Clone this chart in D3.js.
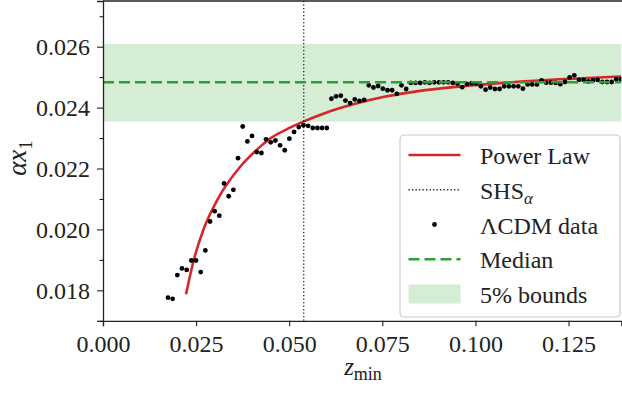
<!DOCTYPE html>
<html lang="en">
<head>
  <meta charset="UTF-8">
  <title>Power law fit</title>
<script src="https://d3js.org/d3.v7.min.js"></script>
<style>
  body { margin: 0; background: #fff; }
  text { font-family: "Liberation Serif", "DejaVu Serif", serif; fill: #222; }
</style>
</head>
<body>
<div id="chart"></div>

  <script>

// LCDM data points
const xData = [
  0.01745, 0.01870, 0.01996, 0.02121, 0.02247, 0.02372, 0.02497, 0.02623, 0.02748, 0.02874,
  0.02999, 0.03124, 0.03250, 0.03375, 0.03501, 0.03626, 0.03751, 0.03877, 0.04002, 0.04128,
  0.04253, 0.04378, 0.04504, 0.04629, 0.04755, 0.04880, 0.05005, 0.05131, 0.05256, 0.05382,
  0.05507, 0.05632, 0.05758, 0.05883, 0.06009, 0.06134, 0.06259, 0.06385, 0.06510, 0.06636,
  0.06761, 0.06886, 0.07012, 0.07137, 0.07263, 0.07388, 0.07513, 0.07639, 0.07764, 0.07890,
  0.08015, 0.08140, 0.08266, 0.08391, 0.08517, 0.08642, 0.08767, 0.08893, 0.09018, 0.09144,
  0.09269, 0.09394, 0.09520, 0.09645, 0.09771, 0.09896, 0.10021, 0.10147, 0.10272, 0.10398,
  0.10523, 0.10648, 0.10774, 0.10899, 0.11025, 0.11150, 0.11275, 0.11401, 0.11526, 0.11652,
  0.11777, 0.11902, 0.12028, 0.12153, 0.12279, 0.12404, 0.12529, 0.12655, 0.12780, 0.12906,
  0.13031, 0.13156, 0.13282, 0.13407, 0.13533, 0.13658, 0.13783, 0.13909
];
const yData = [
  0.01776, 0.01772, 0.01850, 0.01872, 0.01867, 0.01898, 0.01898, 0.01860, 0.01931, 0.02026,
  0.02060, 0.02045, 0.02151, 0.02109, 0.02130, 0.02234, 0.02338, 0.02289, 0.02307, 0.02254,
  0.02251, 0.02296, 0.02286, 0.02292, 0.02276, 0.02260, 0.02298, 0.02320, 0.02336, 0.02342,
  0.02340, 0.02333, 0.02333, 0.02333, 0.02333, 0.02429, 0.02437, 0.02439, 0.02423, 0.02415,
  0.02427, 0.02422, 0.02425, 0.02473, 0.02466, 0.02471, 0.02462, 0.02457, 0.02457, 0.02445,
  0.02473, 0.02461, 0.02481, 0.02481, 0.02481, 0.02483, 0.02481, 0.02483, 0.02483, 0.02483,
  0.02483, 0.02481, 0.02479, 0.02467, 0.02478, 0.02480, 0.02479, 0.02470, 0.02459, 0.02466,
  0.02461, 0.02461, 0.02470, 0.02470, 0.02470, 0.02470, 0.02462, 0.02476, 0.02476, 0.02476,
  0.02489, 0.02482, 0.02482, 0.02481, 0.02477, 0.02484, 0.02499, 0.02506, 0.02491, 0.02491,
  0.02486, 0.02489, 0.02491, 0.02484, 0.02484, 0.02484, 0.02493, 0.02493
];

// power law curve
const fitX = [0.02229, 0.02425, 0.02693, 0.03096, 0.03678, 0.04215, 0.04484, 0.05021, 0.05378,
  0.05826, 0.06095, 0.06721, 0.07617, 0.08511, 0.09720, 0.11062, 0.13910];
const fitY = [0.01787, 0.01894, 0.01998, 0.02103, 0.02205, 0.02271, 0.02298, 0.02334, 0.02354,
  0.02376, 0.02388, 0.02411, 0.02437, 0.02455, 0.02471, 0.02484, 0.02502];

const median = 0.02483;
const bounds = [0.02354, 0.02609];
const shsAlpha = 0.0539;

const xTicks = [0, 0.025, 0.05, 0.075, 0.1, 0.125];
const yTicks = [0.018, 0.020, 0.022, 0.024, 0.026];
const yMinor = [0.017, 0.019, 0.021, 0.023, 0.025, 0.027];

const width = 622, height = 397;
const mLeft = 103, mRight = 621.4, mTop = 1, mBottom = 320.8;

const x = d3.scaleLinear().domain([0, 0.1392]).range([mLeft, mRight]);
const y = d3.scaleLinear().domain([0.0170, 0.0275]).range([mBottom, mTop]);

const svg = d3.select('#chart').append('svg')
  .attr('width', width).attr('height', height);

svg.append('defs').append('clipPath').attr('id', 'clip')
  .append('rect').attr('x', mLeft).attr('y', mTop)
  .attr('width', mRight - mLeft).attr('height', mBottom - mTop);

const plot = svg.append('g').attr('clip-path', 'url(#clip)');

// 5% band
plot.append('rect')
  .attr('x', mLeft).attr('width', mRight - mLeft)
  .attr('y', y(bounds[1])).attr('height', y(bounds[0]) - y(bounds[1]))
  .attr('fill', '#2ca02c').attr('fill-opacity', 0.2);

// power law
const line = d3.line().x(d => x(d[0])).y(d => y(d[1])).curve(d3.curveMonotoneX);
plot.append('path')
  .datum(d3.zip(fitX, fitY))
  .attr('d', line)
  .attr('fill', 'none').attr('stroke', '#d62728').attr('stroke-width', 2.6);

// SHS alpha
plot.append('line')
  .attr('x1', x(shsAlpha)).attr('x2', x(shsAlpha))
  .attr('y1', mTop).attr('y2', mBottom)
  .attr('stroke', '#222').attr('stroke-width', 1.3).attr('stroke-dasharray', '1.3,2.2');

// data
plot.selectAll('circle.pt')
  .data(d3.zip(xData, yData))
  .enter().append('circle')
  .attr('class', 'pt')
  .attr('cx', d => x(d[0])).attr('cy', d => y(d[1]))
  .attr('r', 2.4).attr('fill', '#000');

// median
plot.append('line')
  .attr('x1', mLeft).attr('x2', mRight)
  .attr('y1', y(median)).attr('y2', y(median))
  .attr('stroke', '#2ca02c').attr('stroke-width', 2.6).attr('stroke-dasharray', '11,5');

// axes
const xAxis = svg.append('g').attr('transform', `translate(0,${mBottom})`)
  .call(d3.axisBottom(x).tickValues(xTicks).tickFormat(d3.format('.3f')).tickSize(5.5).tickPadding(8));
const yAxis = svg.append('g').attr('transform', `translate(${mLeft},0)`)
  .call(d3.axisLeft(y).tickValues(yTicks).tickFormat(d3.format('.3f')).tickSize(6).tickPadding(7));
svg.append('g').attr('transform', `translate(${mLeft},0)`)
  .call(d3.axisLeft(y).tickValues(yMinor).tickFormat('').tickSize(3.5))
  .select('.domain').remove();

svg.selectAll('.tick line').attr('stroke', '#222').attr('stroke-width', 1.1);
[xAxis, yAxis].forEach(g => {
  g.select('.domain').attr('stroke', '#222').attr('stroke-width', 1.3);
  g.selectAll('.tick text').attr('font-size', 24).attr('font-family', '"Liberation Serif", serif').attr('fill', '#222');
});
xAxis.selectAll('.tick text').attr('dy', '0.72em');
yAxis.selectAll('.tick text').attr('dy', '0.34em');
// top spine
svg.append('line').attr('x1', mLeft).attr('x2', mRight + 1).attr('y1', mTop).attr('y2', mTop)
  .attr('stroke', '#222').attr('stroke-width', 1.3);

// axis labels
const xl = svg.append('text').attr('x', 363).attr('y', 375).attr('text-anchor', 'middle').attr('font-size', 25);
xl.append('tspan').attr('font-style', 'italic').text('z');
xl.append('tspan').attr('font-size', 18).attr('dy', 5).text('min');

const yl = svg.append('text').attr('transform', 'translate(26,158) rotate(-90)')
  .attr('text-anchor', 'middle').attr('font-size', 27);
yl.append('tspan').attr('font-style', 'italic').text('αx');
yl.append('tspan').attr('font-size', 19).attr('dy', 6).text('1');

// legend
const lg = svg.append('g');
lg.append('rect').attr('x', 400).attr('y', 135).attr('width', 220).attr('height', 182)
  .attr('rx', 4).attr('fill', '#fff').attr('fill-opacity', 0.8)
  .attr('stroke', '#ccc').attr('stroke-width', 1.2);

const legendLabels = ['Power Law', 'SHS', 'ΛCDM data', 'Median', '5% bounds'];
const rowY = d3.scaleLinear().domain([0, 4]).range([155, 294]);
const hx0 = 408.5, hx1 = 460.5, tx = 480;

lg.append('line').attr('x1', hx0).attr('x2', hx1).attr('y1', rowY(0)).attr('y2', rowY(0))
  .attr('stroke', '#d62728').attr('stroke-width', 2.6);
lg.append('line').attr('x1', hx0).attr('x2', hx1).attr('y1', rowY(1)).attr('y2', rowY(1))
  .attr('stroke', '#222').attr('stroke-width', 1.3).attr('stroke-dasharray', '1.3,2.2');
lg.append('circle').attr('cx', (hx0 + hx1) / 2).attr('cy', rowY(2)).attr('r', 2.4).attr('fill', '#000');
lg.append('line').attr('x1', hx0).attr('x2', hx1).attr('y1', rowY(3)).attr('y2', rowY(3))
  .attr('stroke', '#2ca02c').attr('stroke-width', 2.6).attr('stroke-dasharray', '11,5');
lg.append('rect').attr('x', hx0).attr('y', rowY(4) - 9.5).attr('width', hx1 - hx0).attr('height', 19)
  .attr('fill', '#2ca02c').attr('fill-opacity', 0.2);

legendLabels.forEach((t, i) => {
  const tt = lg.append('text').attr('x', tx).attr('y', rowY(i) + 9).attr('font-size', 24).text(t);
  if (i === 1) {
    tt.append('tspan').attr('font-style', 'italic').attr('font-size', 17).attr('dy', 5).text('α');
  }
});

  </script>
</body>
</html>
